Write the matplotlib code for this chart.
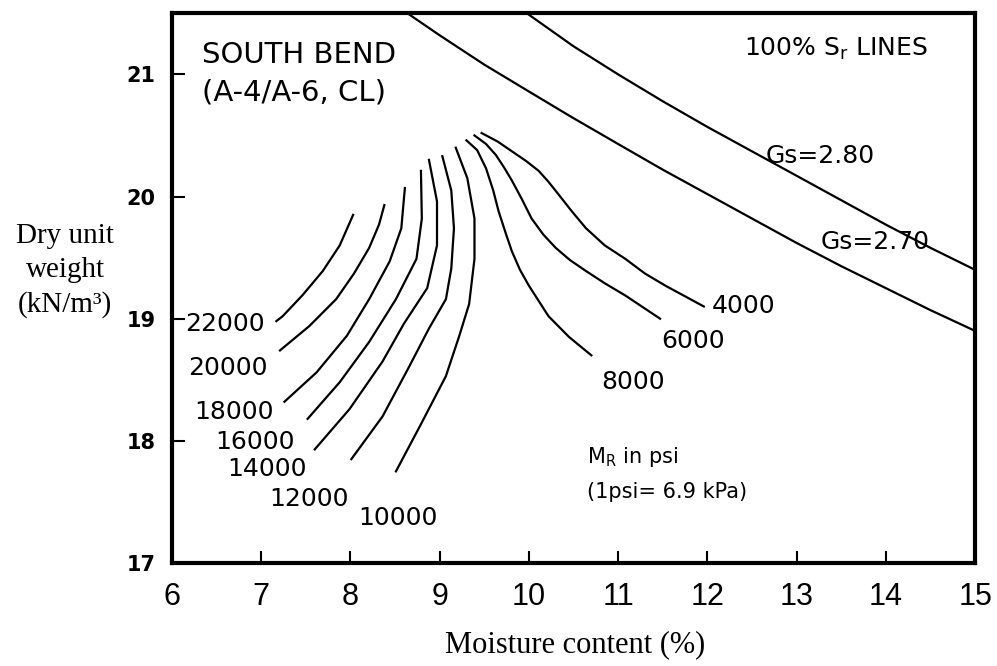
import matplotlib.pyplot as plt

# moisture content (%) / dry unit weight (kN/m3)
w_22000 = [7.17, 7.24, 7.46, 7.69, 7.88, 8.03]
g_22000 = [18.98, 19.02, 19.19, 19.39, 19.60, 19.85]
w_20000 = [7.21, 7.54, 7.84, 8.04, 8.21, 8.32, 8.38]
g_20000 = [18.74, 18.94, 19.16, 19.37, 19.58, 19.77, 19.93]
w_18000 = [7.26, 7.62, 7.96, 8.21, 8.44, 8.57, 8.61]
g_18000 = [18.32, 18.56, 18.86, 19.16, 19.47, 19.74, 20.07]
w_16000 = [7.52, 7.88, 8.21, 8.51, 8.74, 8.80, 8.79]
g_16000 = [18.18, 18.48, 18.81, 19.16, 19.49, 19.82, 20.21]
w_14000 = [7.60, 7.99, 8.36, 8.60, 8.86, 8.97, 8.97, 8.88]
g_14000 = [17.93, 18.26, 18.65, 18.96, 19.25, 19.60, 19.96, 20.30]
w_12000 = [8.01, 8.36, 8.66, 8.88, 9.07, 9.13, 9.16, 9.13, 9.03]
g_12000 = [17.85, 18.20, 18.61, 18.92, 19.16, 19.41, 19.74, 20.05, 20.33]
w_10000 = [8.51, 8.80, 9.07, 9.22, 9.33, 9.39, 9.39, 9.31, 9.18]
g_10000 = [17.75, 18.15, 18.53, 18.86, 19.12, 19.49, 19.82, 20.15, 20.40]
w_8000 = [9.30, 9.42, 9.52, 9.60, 9.66, 9.74, 9.81, 9.90, 10.00, 10.22, 10.45, 10.70]
g_8000 = [20.46, 20.38, 20.23, 20.05, 19.88, 19.70, 19.55, 19.40, 19.27, 19.02, 18.85, 18.70]
w_6000 = [9.39, 9.52, 9.63, 9.72, 9.81, 9.92, 10.03, 10.16, 10.30, 10.46, 10.64, 10.85, 11.08, 11.47]
g_6000 = [20.50, 20.43, 20.34, 20.24, 20.13, 19.98, 19.82, 19.69, 19.58, 19.48, 19.39, 19.29, 19.19, 19.00]
w_4000 = [9.47, 9.65, 9.81, 9.97, 10.11, 10.22, 10.34, 10.48, 10.64, 10.85, 11.08, 11.30, 11.53, 11.96]
g_4000 = [20.52, 20.45, 20.37, 20.29, 20.21, 20.12, 20.01, 19.88, 19.74, 19.60, 19.49, 19.37, 19.27, 19.10]

# 100% saturation lines
w_gs280 = [9.92, 10.5, 11.0, 11.5, 12.0, 12.5, 13.0, 13.5, 14.0, 14.5, 15.0]
g_gs280 = [21.53, 21.23, 21.00, 20.78, 20.57, 20.37, 20.17, 19.97, 19.77, 19.58, 19.40]
w_gs270 = [8.58, 9.0, 9.5, 10.0, 10.48, 11.0, 11.5, 12.0, 12.5, 13.0, 13.5, 14.0, 14.5, 15.0]
g_gs270 = [21.53, 21.32, 21.08, 20.86, 20.65, 20.43, 20.22, 20.02, 19.82, 19.62, 19.43, 19.25, 19.07, 18.90]

curves = [
    (w_22000, g_22000, '22000', 6.59, 18.96),
    (w_20000, g_20000, '20000', 6.63, 18.60),
    (w_18000, g_18000, '18000', 6.70, 18.24),
    (w_16000, g_16000, '16000', 6.93, 17.99),
    (w_14000, g_14000, '14000', 7.07, 17.77),
    (w_12000, g_12000, '12000', 7.54, 17.52),
    (w_10000, g_10000, '10000', 8.53, 17.37),
    (w_8000, g_8000, '8000', 11.17, 18.48),
    (w_6000, g_6000, '6000', 11.84, 18.82),
    (w_4000, g_4000, '4000', 12.40, 19.10),
]

plt.rcParams['font.family'] = 'DejaVu Sans'
plt.rcParams['mathtext.fontset'] = 'dejavusans'

fig = plt.figure(figsize=(9.97, 6.66), dpi=100)
ax = fig.add_axes([0.1725, 0.1547, 0.8055, 0.8253])

for w, g, lab, tx, ty in curves:
    ax.plot(w, g, color='black', linewidth=1.6)
    ax.text(tx, ty, lab, fontsize=18, ha='center', va='center')

ax.plot(w_gs280, g_gs280, color='black', linewidth=1.6)
ax.plot(w_gs270, g_gs270, color='black', linewidth=1.6)
ax.text(13.26, 20.33, 'Gs=2.80', fontsize=18, ha='center', va='center')
ax.text(13.88, 19.63, 'Gs=2.70', fontsize=18, ha='center', va='center')
ax.text(13.44, 21.21, '100% S$_\\mathrm{r}$ LINES', fontsize=18, ha='center', va='center')

ax.text(6.34, 21.16, 'SOUTH BEND', fontsize=21, ha='left', va='center')
ax.text(6.34, 20.85, '(A-4/A-6, CL)', fontsize=21, ha='left', va='center')
ax.text(10.65, 17.87, 'M$_\\mathrm{R}$ in psi', fontsize=15, ha='left', va='center')
ax.text(10.65, 17.58, '(1psi= 6.9 kPa)', fontsize=15, ha='left', va='center')

ax.set_xlim(6, 15)
ax.set_ylim(17, 21.5)
ax.set_xticks(range(6, 16))
ax.set_yticks([17, 18, 19, 20, 21])
for s in ax.spines.values():
    s.set_linewidth(3)
ax.tick_params(direction='in', length=9, width=1.5, top=False, right=False)
ax.tick_params(axis='x', pad=14, labelsize=22)
ax.tick_params(axis='y', pad=12, labelsize=15)
for t in ax.get_xticklabels():
    t.set_fontfamily('Liberation Sans')
for t in ax.get_yticklabels():
    t.set_fontweight('bold')

fig.text(65 / 997, 0.594, 'Dry unit\nweight\n(kN/m³)', family='Liberation Serif',
         fontsize=21, ha='center', va='center', linespacing=1.4)
fig.text(0.577, 0.032, 'Moisture content (%)', family='Liberation Serif',
         fontsize=22, ha='center', va='center')

fig.savefig('out.png', dpi=100)
